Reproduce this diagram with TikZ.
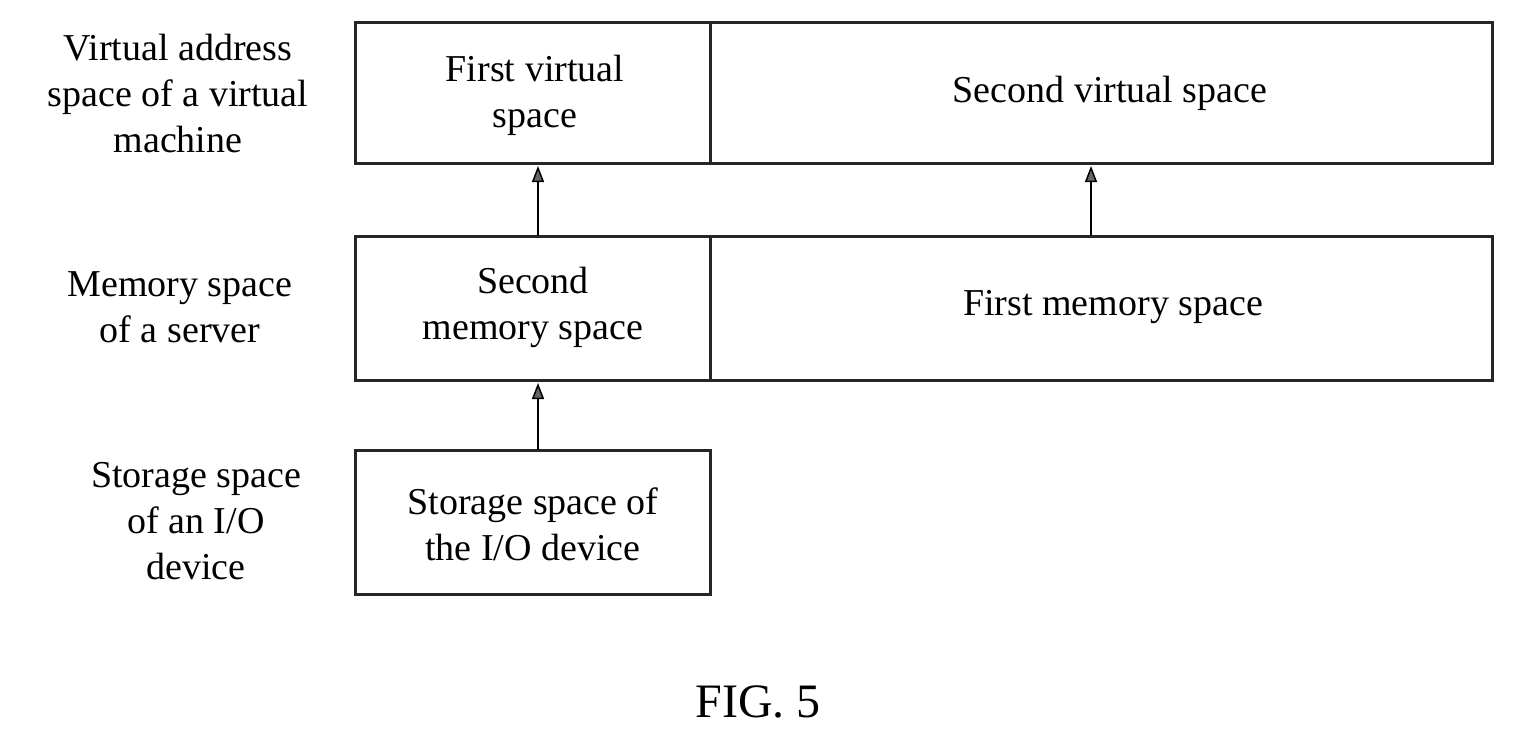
\documentclass[tikz,border=0pt]{standalone}
\usepackage{fontspec}
\setmainfont{Liberation Serif}
\usetikzlibrary{arrows.meta}
\begin{document}
\begin{tikzpicture}[x=1pt,y=-1pt,
  box/.style={draw=black!85,line width=3pt},
  txt/.style={align=center,font=\fontsize{38}{46}\selectfont},
  arr/.style={line width=1.5pt,-{Triangle[length=16pt,width=12pt,fill=black!60]}}]
\useasboundingbox (0,0) rectangle (1514,742);
\draw[box] (355,22) rectangle (710,163);
\draw[box] (710,22) rectangle (1492,163);
\draw[box] (355,236) rectangle (710,380);
\draw[box] (710,236) rectangle (1492,380);
\draw[box] (355,450) rectangle (710,594);
\node[txt] (fv) at (535,95) {First virtual\\space};
\node[txt] (sv) at (1110,93) {Second virtual space};
\node[txt] (sm) at (533,307) {Second\\memory space};
\node[txt] (fm) at (1113,307) {First memory space};
\node[txt] (io) at (533,524) {Storage space of\\the I/O device};
\node[txt] (l1) at (178,93) {Virtual address\\space of a virtual\\machine};
\node[txt] (l2) at (180,307) {Memory space\\of a server};
\node[txt] (l3) at (196,521) {Storage space\\of an I/O\\device};
\node[font=\fontsize{48}{56}\selectfont] (fig) at (758,702) {FIG. 5};
\coordinate (a1) at (538,236); \coordinate (b1) at (538,166);
\coordinate (a2) at (1091,236); \coordinate (b2) at (1091,166);
\coordinate (a3) at (538,450); \coordinate (b3) at (538,383);
\draw[arr] (a1) -- (b1);
\draw[arr] (a2) -- (b2);
\draw[arr] (a3) -- (b3);
\end{tikzpicture}
\end{document}
